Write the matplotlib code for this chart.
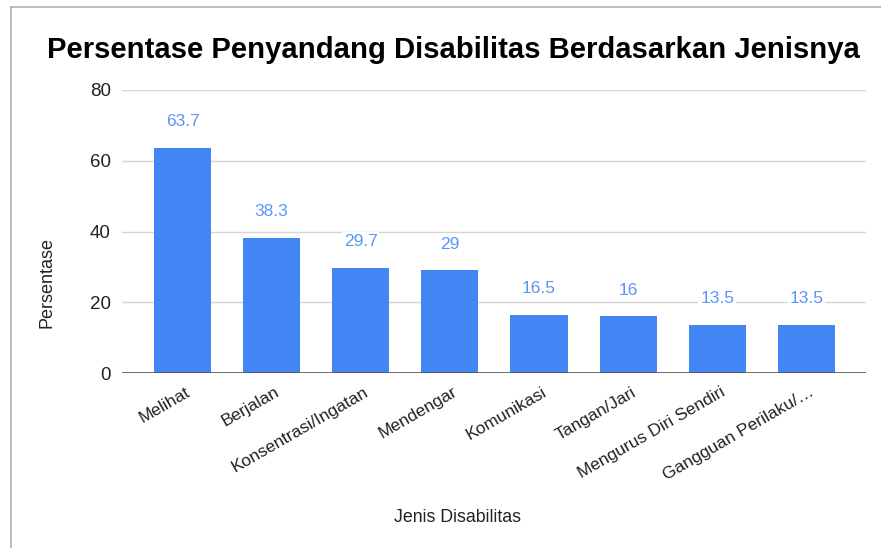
import matplotlib
matplotlib.use('Agg')
import matplotlib.pyplot as plt
import matplotlib.transforms as mtransforms
from matplotlib.lines import Line2D

plt.rcParams['font.family'] = ['Liberation Sans', 'DejaVu Sans']

# data
categories = ['Melihat', 'Berjalan', 'Konsentrasi/Ingatan', 'Mendengar',
              'Komunikasi', 'Tangan/Jari', 'Mengurus Diri Sendiri',
              'Gangguan Perilaku/…']
values = [63.7, 38.3, 29.7, 29, 16.5, 16, 13.5, 13.5]
value_labels = ['63.7', '38.3', '29.7', '29', '16.5', '16', '13.5', '13.5']
y_ticks = [0, 20, 40, 60, 80]

W, H = 881, 548
fig = plt.figure(figsize=(W / 100, H / 100), dpi=100)
ax = fig.add_axes([122 / W, 1 - 373 / H, (866 - 122) / W, (373 - 90) / H])

bar_color = '#4285F4'
x = list(range(len(categories)))
ax.bar(x, values, width=0.64, color=bar_color, zorder=3)

for xi, v, lab in zip(x, values, value_labels):
    ax.annotate(lab, (xi, v), xytext=(0, 19), textcoords='offset points',
                ha='center', va='center', fontsize=12.5, color='#5B95F7', zorder=5,
                bbox=dict(boxstyle='square,pad=0.1', fc='white', ec='none'))

ax.set_xlim(-0.68, 7.67)
ax.set_ylim(0, 80)
ax.set_yticks(y_ticks)
ax.set_yticklabels([str(t) for t in y_ticks])
ax.grid(axis='y', color='#d6d6d6', linewidth=1, zorder=0)
ax.axhline(0, color='#555555', linewidth=1.2, zorder=4)

for s in ax.spines.values():
    s.set_visible(False)
ax.tick_params(axis='both', length=0, colors='#222222')
ax.tick_params(axis='y', pad=8, labelsize=13.5)
ax.set_xticks(x)
ax.set_xticklabels(categories, rotation=30, ha='right', va='center',
                   rotation_mode='anchor', fontsize=12.5)
ax.tick_params(axis='x', pad=13)
shift = mtransforms.ScaledTranslation(0.065, 0, fig.dpi_scale_trans)
for lbl in ax.get_xticklabels():
    lbl.set_transform(lbl.get_transform() + shift)

fig.text(453 / W, 1 - 50 / H, 'Persentase Penyandang Disabilitas Berdasarkan Jenisnya',
         ha='center', va='center', fontsize=21.1, fontweight='bold', color='black')
fig.text(457 / W, 1 - 517 / H, 'Jenis Disabilitas', ha='center', va='center',
         fontsize=12.8, color='#222222')
fig.text(47 / W, 1 - 282 / H, 'Persentase', ha='center', va='center',
         rotation=90, fontsize=13, color='#222222')

# frame of the screenshot (top and left edges only)
fig.add_artist(Line2D([11 / W, 1], [1 - 7 / H, 1 - 7 / H], color='#b0b0b0', linewidth=1.2,
                      transform=fig.transFigure))
fig.add_artist(Line2D([11 / W, 11 / W], [0, 1 - 7 / H], color='#b0b0b0', linewidth=1.2,
                      transform=fig.transFigure))

fig.savefig('out.png', dpi=100)
